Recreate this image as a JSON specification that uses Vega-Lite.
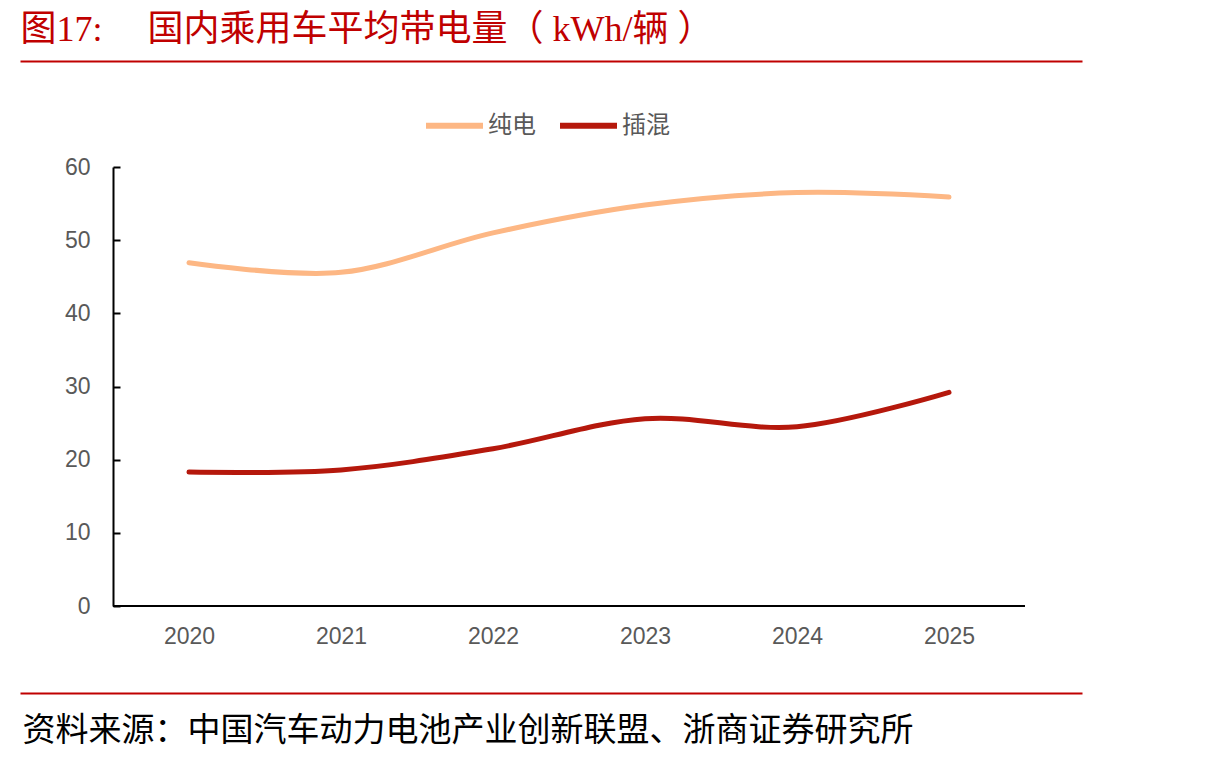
{
  "$schema": "https://vega.github.io/schema/vega-lite/v6.json",
  "autosize": "none",
  "width": 1062,
  "height": 439,
  "padding": {"left": 20, "top": 167, "right": 128, "bottom": 156},
  "background": "white",
  "config": {"view": {"stroke": null}},
  "resolve": {"axis": {"x": "independent"}},
  "layer": [
    {
      "data": {"values": [
        {"year": 2020, "type": "纯电", "value": 46.9},
        {"year": 2021, "type": "纯电", "value": 45.6},
        {"year": 2022, "type": "纯电", "value": 51.0},
        {"year": 2023, "type": "纯电", "value": 54.8},
        {"year": 2024, "type": "纯电", "value": 56.5},
        {"year": 2025, "type": "纯电", "value": 55.9},
        {"year": 2020, "type": "插混", "value": 18.3},
        {"year": 2021, "type": "插混", "value": 18.6},
        {"year": 2022, "type": "插混", "value": 21.5},
        {"year": 2023, "type": "插混", "value": 25.6},
        {"year": 2024, "type": "插混", "value": 24.5},
        {"year": 2025, "type": "插混", "value": 29.2}
      ]},
      "mark": {"type": "line", "interpolate": "catmull-rom", "strokeWidth": 5, "strokeCap": "round"},
      "encoding": {
        "x": {
          "field": "year", "type": "quantitative",
          "scale": {"domain": [2018.8882, 2025.875], "nice": false, "zero": false},
          "axis": {
            "orient": "bottom", "offset": 87,
            "values": [2020, 2021, 2022, 2023, 2024, 2025], "format": "d",
            "domainColor": "#C00000", "domainWidth": 2,
            "ticks": false, "grid": false,
            "labelPadding": -57, "labelBaseline": "middle",
            "labelColor": "#595959", "labelFontSize": 23, "labelFont": "Liberation Sans",
            "title": "资料来源：中国汽车动力电池产业创新联盟、浙商证券研究所",
            "titleX": 2, "titleY": 37, "titleAnchor": "start", "titleAlign": "left",
            "titleBaseline": "middle", "titleFontSize": 33, "titleColor": "#000000",
            "titleFontWeight": "normal", "titleFont": "Noto Sans CJK SC"
          }
        },
        "y": {
          "field": "value", "type": "quantitative",
          "scale": {"domain": [0, 60], "nice": false},
          "axis": {
            "orient": "left", "offset": -93,
            "values": [0, 10, 20, 30, 40, 50, 60],
            "domainColor": "#000000", "domainWidth": 2,
            "ticks": true, "tickSize": -7, "tickColor": "#000000", "tickWidth": 2,
            "labelPadding": 30, "labelColor": "#595959", "labelFontSize": 23, "labelFont": "Liberation Sans",
            "grid": false, "title": null
          }
        },
        "color": {
          "field": "type", "type": "nominal",
          "scale": {"domain": ["纯电", "插混"], "range": ["#FDB784", "#B5180C"]},
          "legend": {
            "orient": "none", "legendX": 403, "legendY": -73, "direction": "horizontal",
            "title": null, "symbolType": "stroke", "symbolSize": 3249, "symbolStrokeWidth": 6,
            "labelFont": "Noto Sans CJK SC", "labelFontSize": 24, "labelColor": "#595959",
            "labelOffset": 2, "columnPadding": 12
          }
        }
      }
    },
    {
      "data": {"values": [{}]},
      "mark": {"type": "rule", "color": "#000000", "strokeWidth": 2},
      "encoding": {
        "x": {
          "datum": 2019.5, "type": "quantitative",
          "axis": {
            "orient": "top", "offset": 106,
            "domainColor": "#C00000", "domainWidth": 2,
            "labels": false, "ticks": false, "grid": false,
            "title": "图17:　  国内乘用车平均带电量（ kWh/辆 ）",
            "titleX": 0, "titleY": -21, "titleAnchor": "start", "titleAlign": "left",
            "titleBaseline": "alphabetic", "titleFontSize": 36, "titleColor": "#C00000",
            "titleFontWeight": "normal", "titleFont": "Liberation Serif, Noto Sans CJK SC"
          }
        },
        "x2": {"datum": 2025.5},
        "y": {"datum": 0, "type": "quantitative"}
      }
    }
  ]
}
